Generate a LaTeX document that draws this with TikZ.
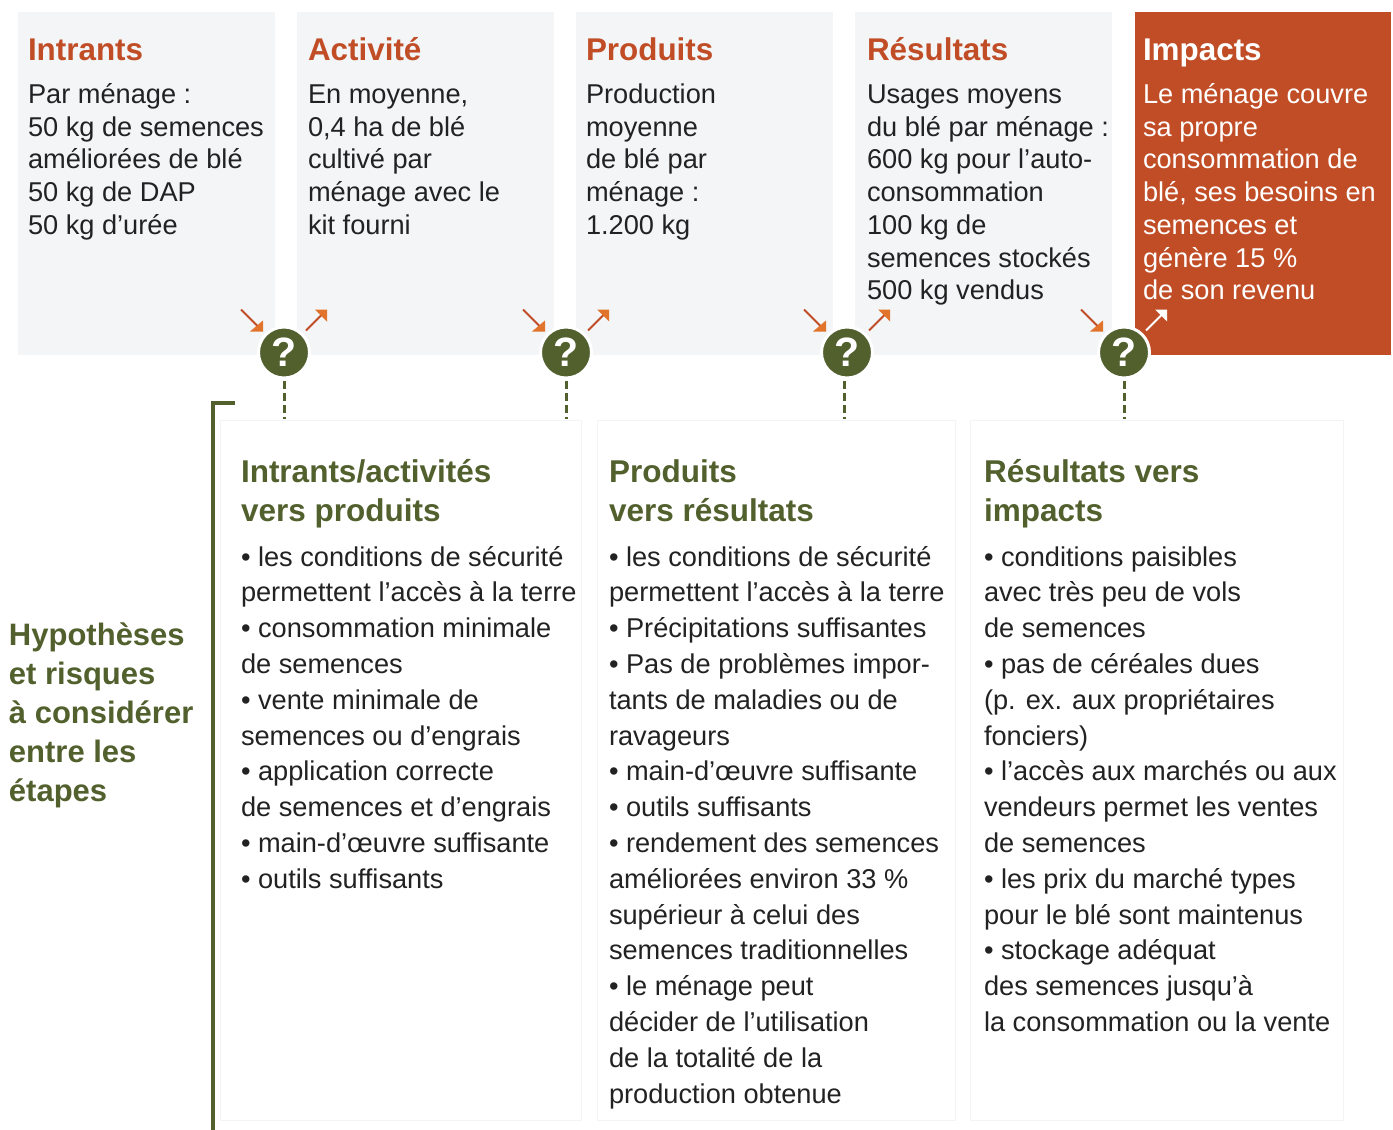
\documentclass[tikz,border=0pt]{standalone}
\usepackage{fontspec}
\setmainfont{Liberation Sans}
\definecolor{rust}{HTML}{C04D26}
\definecolor{tipor}{HTML}{E2732A}
\definecolor{olive}{HTML}{52602E}
\definecolor{panelg}{HTML}{F3F5F7}
\definecolor{ink}{HTML}{222222}
\definecolor{lineg}{HTML}{F3F4F4}
\newcommand{\fl}{\rule{0pt}{30pt}}
\tikzset{
 panel/.style={fill=panelg,draw=none},
 lowpanel/.style={fill=white,draw=lineg,line width=1pt},
 txt/.style={inner sep=0pt,outer sep=0pt,anchor=north west,align=left,text=ink},
 toptxt/.style={txt,font=\fontsize{27.2}{32.7}\selectfont},
 lowtxt/.style={txt,font=\fontsize{27.2}{35.8}\selectfont},
 toph/.style={txt,text=rust,font=\fontsize{31.4}{36}\selectfont\bfseries},
 lowh/.style={txt,text=olive,font=\fontsize{31.5}{39.2}\selectfont\bfseries},
 sideh/.style={txt,text=olive,font=\fontsize{31}{39.2}\selectfont\bfseries},
 qmark/.style={circle,fill=olive,draw=white,line width=3pt,minimum size=51pt,inner sep=0pt,text=white,font=\fontsize{41}{41}\selectfont\bfseries},
 shaft/.style={draw=rust,line width=1.8pt},
 dashline/.style={draw=olive,line width=3pt,dash pattern=on 8pt off 4pt},
}
\usetikzlibrary{calc}
\newcommand{\arrowin}[2]{%
 \coordinate (#1s) at ($(#2)+(-43,-43)$);
 \coordinate (#1e) at ($(#2)+(-24,-24)$);
 \draw[shaft] (#1s) -- (#1e);
 \fill[tipor] ($(#2)+(-21,-32)$) -- ($(#2)+(-21,-21)$) -- ($(#2)+(-34,-21)$) -- cycle;
}
\newcommand{\arrowout}[3]{%
 \coordinate (#1s) at ($(#2)+(22,-22)$);
 \coordinate (#1e) at ($(#2)+(38,-38)$);
 \draw[draw=#3,line width=1.8pt] (#1s) -- (#1e);
 \fill[tipor] ($(#2)+(31,-43)$) -- ($(#2)+(43,-43)$) -- ($(#2)+(43,-31)$) -- cycle;
}
\begin{document}
\begin{tikzpicture}[x=1pt,y=-1pt]
\useasboundingbox (0,0) rectangle (1393,1130);
% top panels
\fill[panel] (18,12) rectangle (275,355);
\fill[panel] (297,12) rectangle (554,355);
\fill[panel] (576,12) rectangle (833,355);
\fill[panel] (855,12) rectangle (1112,355);
\fill[rust] (1135,12) rectangle (1391,355);
% lower panels
\draw[lowpanel] (220,420) rectangle (581,1120);
\draw[lowpanel] (597,420) rectangle (955,1120);
\draw[lowpanel] (970,420) rectangle (1343,1120);
% bracket
\draw[olive,line width=4pt] (235,403) -- (213,403) -- (213,1130);
% top texts
\node[toph] (h1) at (28,30) {\fl Intrants};
\node[toptxt] (t1) at (28,73.5) {\fl Par ménage :\\50 kg de semences\\améliorées de blé\\50 kg de DAP\\50 kg d’urée};
\node[toph] (h2) at (308,30) {\fl Activité};
\node[toptxt] (t2) at (308,73.5) {\fl En moyenne,\\0,4 ha de blé\\cultivé par\\ménage avec le\\kit fourni};
\node[toph] (h3) at (586,30) {\fl Produits};
\node[toptxt] (t3) at (586,73.5) {\fl Production\\moyenne\\de blé par\\ménage :\\1.200 kg};
\node[toph] (h4) at (867,30) {\fl Résultats};
\node[toptxt] (t4) at (867,73.5) {\fl Usages moyens\\du blé par ménage :\\600 kg pour l’auto-\\consommation\\100 kg de\\semences stockés\\500 kg vendus};
\node[toph,text=white] (h5) at (1143,30) {\fl Impacts};
\node[toptxt,text=white] (t5) at (1143,73.5) {\fl Le ménage couvre\\sa propre\\consommation de\\blé, ses besoins en\\semences et\\génère 15 \%\\de son revenu};
% question marks
\node[qmark] (q1) at (284,352.5) {?};
\node[qmark] (q2) at (566,352.5) {?};
\node[qmark] (q3) at (847,352.5) {?};
\node[qmark] (q4) at (1124,352.5) {?};
\coordinate (d1) at (284,419);
\coordinate (d2) at (566,419);
\coordinate (d3) at (844,419);
\coordinate (d4) at (1124,419);
\draw[dashline] (284,381) -- (d1);
\draw[dashline] (566,381) -- (d2);
\draw[dashline] (844,381) -- (d3);
\draw[dashline] (1124,381) -- (d4);
% arrows
\arrowin{a1}{q1} \arrowin{a2}{q2} \arrowin{a3}{q3} \arrowin{a4}{q4}
\arrowout{b1}{q1}{rust} \arrowout{b2}{q2}{rust} \arrowout{b3}{q3}{rust}
\coordinate (b4s) at ($(q4)+(22,-22)$);
\coordinate (b4e) at ($(q4)+(38,-38)$);
\draw[white,line width=1.8pt] (b4s) -- (b4e);
\fill[white] ($(q4)+(31,-43)$) -- ($(q4)+(43,-43)$) -- ($(q4)+(43,-31)$) -- cycle;
% side label
\node[sideh] (side) at (9,615) {\fl Hypothèses\\et risques\\à considérer\\entre les\\étapes};
% lower texts
\node[lowh] (lh1) at (241,452) {\fl Intrants/activités\\vers produits};
\node[lowtxt] (l1) at (241,536) {\fl • les conditions de sécurité\\permettent l’accès à la terre\\• consommation minimale\\de semences\\• vente minimale de\\semences ou d’engrais\\• application correcte\\de semences et d’engrais\\• main-d’œuvre suffisante\\• outils suffisants};
\node[lowh] (lh2) at (609,452) {\fl Produits\\vers résultats};
\node[lowtxt] (l2) at (609,536) {\fl • les conditions de sécurité\\permettent l’accès à la terre\\• Précipitations suffisantes\\• Pas de problèmes impor-\\tants de maladies ou de\\ravageurs\\• main-d’œuvre suffisante\\• outils suffisants\\• rendement des semences\\améliorées environ 33 \%\\supérieur à celui des\\semences traditionnelles\\• le ménage peut\\décider de l’utilisation\\de la totalité de la\\production obtenue};
\node[lowh] (lh3) at (984,452) {\fl Résultats vers\\impacts};
\node[lowtxt] (l3) at (984,536) {\fl • conditions paisibles\\avec très peu de vols\\de semences\\• pas de céréales dues\\(p. ex. aux propriétaires\\fonciers)\\• l’accès aux marchés ou aux\\vendeurs permet les ventes\\de semences\\• les prix du marché types\\pour le blé sont maintenus\\• stockage adéquat\\des semences jusqu’à\\la consommation ou la vente};
\end{tikzpicture}
\end{document}
